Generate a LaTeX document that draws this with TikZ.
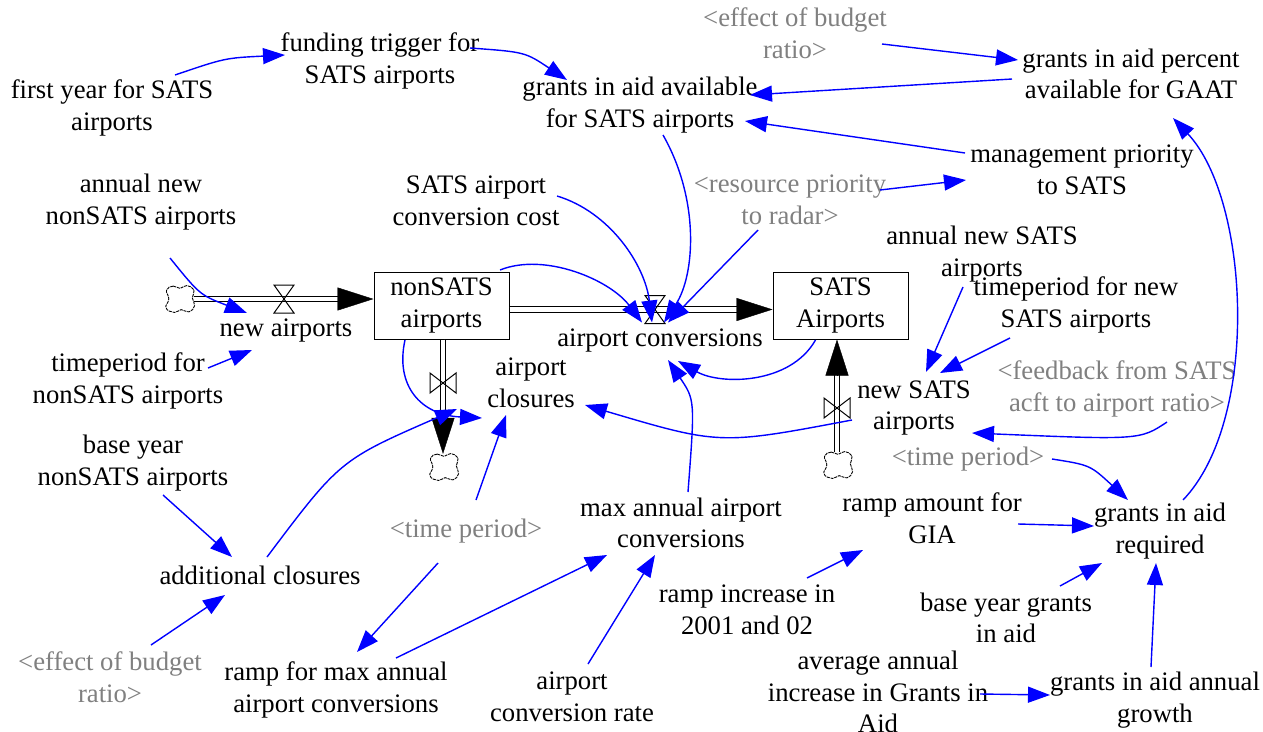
\documentclass[tikz,border=0pt]{standalone}
\usepackage{fontspec}
\setmainfont{Liberation Serif}
\usetikzlibrary{arrows.meta,calc}
\definecolor{linkblue}{RGB}{0,0,255}
\definecolor{ghostgray}{RGB}{128,128,128}
\begin{document}
\begin{tikzpicture}[x=1pt,y=-1pt,
  every node/.style={font=\fontsize{26.7}{31.5}\selectfont},
  var/.style={align=center,inner sep=0pt},
  ghost/.style={var,text=ghostgray},
  stockbox/.style={draw,line width=1pt,minimum width=135pt,minimum height=67pt,align=center,inner sep=0pt},
  sink/.style={minimum width=28pt,minimum height=26pt,inner sep=0pt},
  pipe/.style={draw,line width=1.3pt,double=white,double distance=4.2pt},
  pipetip/.style={line width=0.4pt,-{Triangle[length=36pt,width=23pt]}},
  link/.style={draw=linkblue,line width=1.4pt,-{Triangle[length=22pt,width=16pt]}},
  valveh/.pic={\draw[line width=1pt] (-10,-14) -- (10,-14) -- (-10,14) -- (10,14) -- cycle;},
  valvev/.pic={\draw[line width=1pt] (-13,-10) -- (-13,10) -- (13,-10) -- (13,10) -- cycle;},
  cloudpic/.pic={\draw[line width=0.9pt,dash pattern=on 3pt off 0.9pt,fill=white,scale=1.12]
    plot[smooth cycle,tension=0.8] coordinates {(-12,-8) (-6,-11.5) (0,-9.5) (6,-12) (12.5,-8)
      (11,-1) (13,6) (8,11.5) (1,9.5) (-5,12) (-12.5,8) (-10,0)};}
]
\useasboundingbox (0,0) rectangle (1263,731);
\fill[white] (0,0) rectangle (1263,731);

% variables
\node[var] (first) at (112,108) {first year for SATS\\airports};
\node[var] (fund) at (380,61) {funding trigger for\\SATS airports};
\node[var] (gAvail) at (640,105) {grants in aid available\\for SATS airports};
\node[ghost] (effT) at (795,33) {<effect of budget\\ratio>};
\node[var] (gPct) at (1131,74) {grants in aid percent\\available for GAAT};
\node[var] (mgmt) at (1082,170) {management priority\\to SATS};
\node[ghost] (resP) at (790,200) {<resource priority\\to radar>};
\node[var] (cost) at (476,201) {SATS airport\\conversion cost};
\node[var] (annN) at (141,202) {annual new\\nonSATS airports};
\node[var] (annS) at (982,254) {annual new SATS\\airports};
\node[var] (tpS) at (1076,305) {timeperiod for new\\SATS airports};
\node[stockbox] (nonS) at (441.5,305.5) {nonSATS\\airports};
\node[stockbox] (sats) at (840.5,305.5) {SATS\\Airports};
\node[var] (newA) at (286,330) {new airports};
\node[var] (tpN) at (128,381) {timeperiod for\\nonSATS airports};
\node[var] (conv) at (660,340) {airport conversions};
\node[var] (clos) at (531,383) {airport\\closures};
\node[var] (newS) at (914,408) {new SATS\\airports};
\node[ghost] (feed) at (1117,389) {<feedback from SATS\\acft to airport ratio>};
\node[ghost] (tp2) at (968,459) {<time period>};
\node[var] (baseN) at (133,463) {base year\\nonSATS airports};
\node[ghost] (tp1) at (466,531) {<time period>};
\node[var] (maxA) at (681,523) {max annual airport\\conversions};
\node[var] (rampG) at (932,518) {ramp amount for\\GIA};
\node[var] (gReq) at (1160,531) {grants in aid\\required};
\node[var] (addC) at (260,575) {additional closures};
\node[var] (rampI) at (747,610) {ramp increase in\\2001 and 02};
\node[var] (baseG) at (1006,618) {base year grants\\in aid};
\node[ghost] (effB) at (110,677) {<effect of budget\\ratio>};
\node[var] (rampM) at (336,690) {ramp for max annual\\airport conversions};
\node[var] (rate) at (572,697) {airport\\conversion rate};
\node[var] (avg) at (878,692) {average annual\\increase in Grants in\\Aid};
\node[var] (growth) at (1155,700) {grants in aid annual\\growth};

% sources, sinks and valves
\node[sink] (c1) at (180,299) {};
\node[sink] (c2) at (444,467) {};
\node[sink] (c3) at (838,465) {};
\coordinate (vNew) at (284,299);
\coordinate (vConv) at (655,309.5);
\coordinate (vClos) at (443,383);
\coordinate (vNewS) at (837,408);

% flow pipes
\draw[pipe] (c1.east) -- ($(nonS.west)+(-30,-6.5)$);
\draw[pipetip] ($(nonS.west)+(-36,-6.5)$) -- ($(nonS.west)+(0,-6.5)$);
\draw[pipe] ($(nonS.east)+(0,4)$) -- ($(sats.west)+(-30,4)$);
\draw[pipetip] ($(sats.west)+(-36,4)$) -- ($(sats.west)+(0,4)$);
\draw[pipe] ($(nonS.south)+(1.5,0)$) -- ($(c2.north)+(-1,-30)$);
\draw[pipetip] ($(c2.north)+(-1,-36)$) -- ($(c2.north)+(-1,0)$);
\draw[pipe] ($(c3.north)+(-1,0)$) -- ($(sats.south)+(-3.5,30)$);
\draw[pipetip] ($(sats.south)+(-3.5,36)$) -- ($(sats.south)+(-3.5,0)$);
\pic at (c1) {cloudpic};
\pic at (c2) {cloudpic};
\pic at (c3) {cloudpic};
\pic at (vNew) {valveh};
\pic at (vConv) {valveh};
\pic at (vClos) {valvev};
\pic at (vNewS) {valvev};

% information links
\draw[link] ($(first)+(63,-33)$) .. controls (225,58) .. ($(fund)+(-95,-6)$);
\draw[link] ($(fund)+(90,-13)$) .. controls (525,52) .. ($(gAvail)+(-73,-25)$);
\draw[link] ($(effT)+(87,11)$) -- ($(gPct)+(-113,-14)$);
\draw[link] ($(gPct)+(-119,5)$) -- ($(gAvail)+(110,-10)$);
\draw[link] ($(mgmt)+(-117,-17)$) -- ($(gAvail)+(105,16)$);
\draw[link] ($(resP)+(90,-10)$) -- ($(mgmt)+(-116,10)$);
\draw[link] ($(nonS)+(58.5,-35.5)$) .. controls (545,252) and (610,280) .. ($(vConv)+(-13,13)$);
\draw[link] ($(cost)+(81,-5)$) .. controls (610,212) and (645,265) .. ($(vConv)+(-3,13)$);
\draw[link] ($(gAvail)+(23,30)$) .. controls (700,200) and (695,275) .. ($(vConv)+(9,13)$);
\draw[link] ($(resP)+(-32,30)$) -- ($(vConv)+(13,13)$);
\draw[link] ($(sats)+(-25,34.5)$) .. controls (790,385) and (720,385) .. ($(conv)+(18,21)$);
\draw[link] ($(maxA)+(7,-31)$) .. controls (695,400) .. ($(conv)+(8,20)$);
\draw[link] ($(newS)+(-62,12)$) .. controls (720,445) .. ($(clos)+(54,22)$);
\draw[link] ($(annN)+(29,56)$) .. controls (200,295) .. ($(newA)+(-39,-17)$);
\draw[link] ($(tpN)+(80,-13)$) -- ($(newA)+(-34,20)$);
\draw[link] ($(nonS)+(-36.5,34.5)$) .. controls (395,385) and (420,415) .. ($(clos)+(-49,35)$);
\draw[link] ($(addC)+(7,-18)$) .. controls (340,460) .. ($(clos)+(-74,26)$);
\draw[link] ($(tp1)+(10,-31)$) -- ($(clos)+(-25,32)$);
\draw[link] ($(baseN)+(30,32)$) -- ($(addC)+(-28,-18)$);
\draw[link] ($(effB)+(41,-32)$) -- ($(addC)+(-35,20)$);
\draw[link] ($(tp1)+(-28,32)$) -- ($(rampM)+(21,-38)$);
\draw[link] ($(rampM)+(60,-32)$) -- ($(maxA)+(-74,32)$);
\draw[link] ($(rate)+(16,-33)$) -- ($(maxA)+(-26,32)$);
\draw[link] ($(rampI)+(60,-32)$) -- ($(rampG)+(-69,32)$);
\draw[link] ($(annS)+(-19,33)$) -- ($(newS)+(12,-36)$);
\draw[link] ($(tpS)+(-66,33)$) -- ($(newS)+(26,-35)$);
\draw[link] ($(feed)+(50,33)$) .. controls (1140,440) .. ($(newS)+(58,25)$);
\draw[link] ($(tp2)+(84,0)$) .. controls (1090,465) .. ($(gReq)+(-32,-31)$);
\draw[link] ($(rampG)+(86,6)$) -- ($(gReq)+(-66,-5)$);
\draw[link] ($(baseG)+(54,-32)$) -- ($(gReq)+(-58,32)$);
\draw[link] ($(growth)+(-4,-33)$) -- ($(gReq)+(-4,32)$);
\draw[link] ($(avg)+(102,2)$) -- ($(growth)+(-105,-5)$);
\draw[link] ($(gReq)+(23,-31)$) .. controls (1260,420) and (1250,200) .. ($(gPct)+(42,44)$);
\end{tikzpicture}
\end{document}
